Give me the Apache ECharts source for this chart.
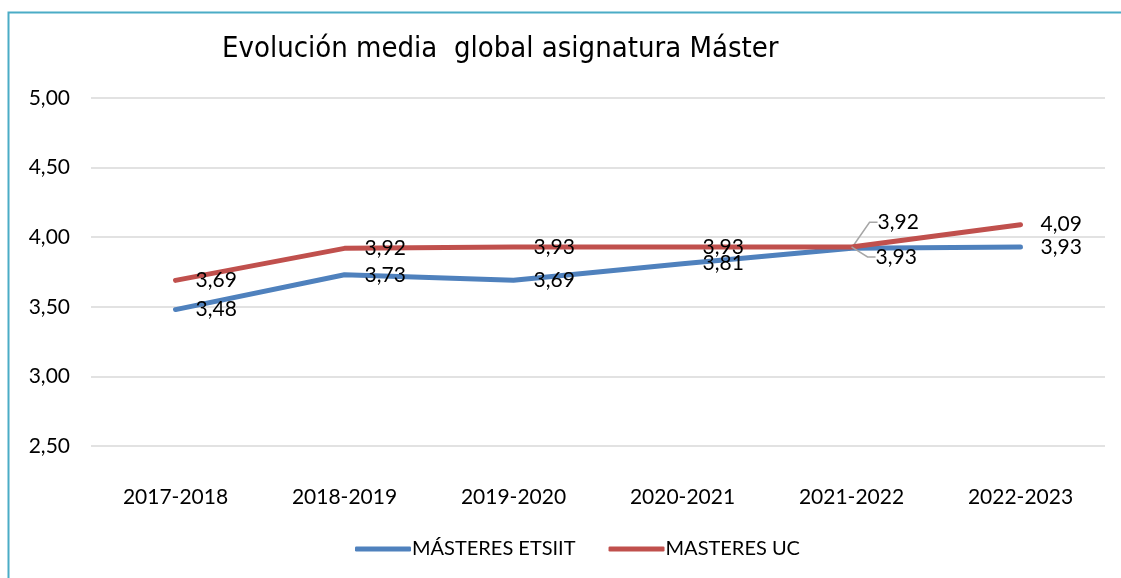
<!DOCTYPE html>
<html>
<head>
<meta charset="utf-8">
<script src="https://cdn.jsdelivr.net/npm/echarts@6/dist/echarts.min.js"></script>
<style>html,body{margin:0;padding:0;background:#fff;}#c{width:1121px;height:578px;}</style>
</head>
<body>
<div id="c"></div>
<script>
const categories = ['2017-2018','2018-2019','2019-2020','2020-2021','2021-2022','2022-2023'];
const etsiit = [3.48, 3.73, 3.69, 3.81, 3.92, 3.93];
const uc = [3.69, 3.92, 3.93, 3.93, 3.93, 4.09];
const seriesNames = ['MÁSTERES ETSIIT', 'MASTERES UC'];
const colors = ['#4F81BD', '#C0504D'];
const titleText = 'Evolución media  global asignatura Máster';
const movedIndex = 4;

const fmt = v => v.toFixed(2).replace('.', ',');
const labelFont = {fontFamily: 'Lato, sans-serif', fontSize: 21, color: '#000'};
const leader = {show: true, length2: 8, lineStyle: {color: '#A6A6A6', width: 1.5}};

function mk(arr) {
  return arr.map((v, i) => i === movedIndex ? {value: v, labelLine: leader} : v);
}

const chart = echarts.init(document.getElementById('c'), null, {renderer: 'canvas'});
chart.setOption({
  animation: false,
  title: {
    text: titleText, left: 217, top: 30,
    textStyle: {fontFamily: 'DejaVu Sans Condensed, DejaVu Sans', fontWeight: 'normal', fontSize: 29, color: '#000'}
  },
  grid: {left: 91, right: 16, top: 98, bottom: 132},
  legend: {
    bottom: 14, left: 350, itemGap: 33, itemWidth: 56, itemHeight: 5, icon: 'roundRect',
    textStyle: {fontFamily: 'Lato, sans-serif', fontSize: 20, color: '#000', padding: [0,0,0,-4]},
    data: seriesNames.map((n, i) => ({name: n, itemStyle: {color: colors[i]}}))
  },
  xAxis: {
    type: 'category', data: categories, boundaryGap: true,
    axisLine: {show: false}, axisTick: {show: false},
    axisLabel: {fontFamily: 'Lato, sans-serif', fontSize: 21, color: '#000', margin: 41}
  },
  yAxis: {
    type: 'value', min: 2.5, max: 5, interval: 0.5,
    axisLine: {show: false}, axisTick: {show: false},
    splitLine: {lineStyle: {color: '#D9D9D9', width: 1.5}},
    axisLabel: {fontFamily: 'Lato, sans-serif', fontSize: 21, color: '#000', margin: 21, formatter: v => fmt(v)}
  },
  series: [
    {
      name: seriesNames[0], type: 'line', data: mk(etsiit), symbol: 'circle', symbolSize: 0.1, showSymbol: true,
      lineStyle: {color: colors[0], width: 5, cap: 'round'}, itemStyle: {color: colors[0]},
      label: Object.assign({show: true, position: 'right', distance: 20, formatter: p => fmt(p.value)}, labelFont),
      labelLine: {show: false},
      labelLayout: p => p.dataIndex === movedIndex ? {dx: 6, dy: -26} : {},
      z: 2
    },
    {
      name: seriesNames[1], type: 'line', data: mk(uc), symbol: 'circle', symbolSize: 0.1, showSymbol: true,
      lineStyle: {color: colors[1], width: 5, cap: 'round'}, itemStyle: {color: colors[1]},
      label: Object.assign({show: true, position: 'right', distance: 20, formatter: p => fmt(p.value)}, labelFont),
      labelLine: {show: false},
      labelLayout: p => p.dataIndex === movedIndex ? {dx: 4, dy: 10} : {},
      z: 3
    }
  ],
  graphic: [{
    type: 'polyline', silent: true,
    shape: {points: [[8.5, 578], [8.5, 12.5], [1121, 12.5]]},
    style: {stroke: '#4BACC6', lineWidth: 2, fill: null}
  }]
});
</script>
</body>
</html>
